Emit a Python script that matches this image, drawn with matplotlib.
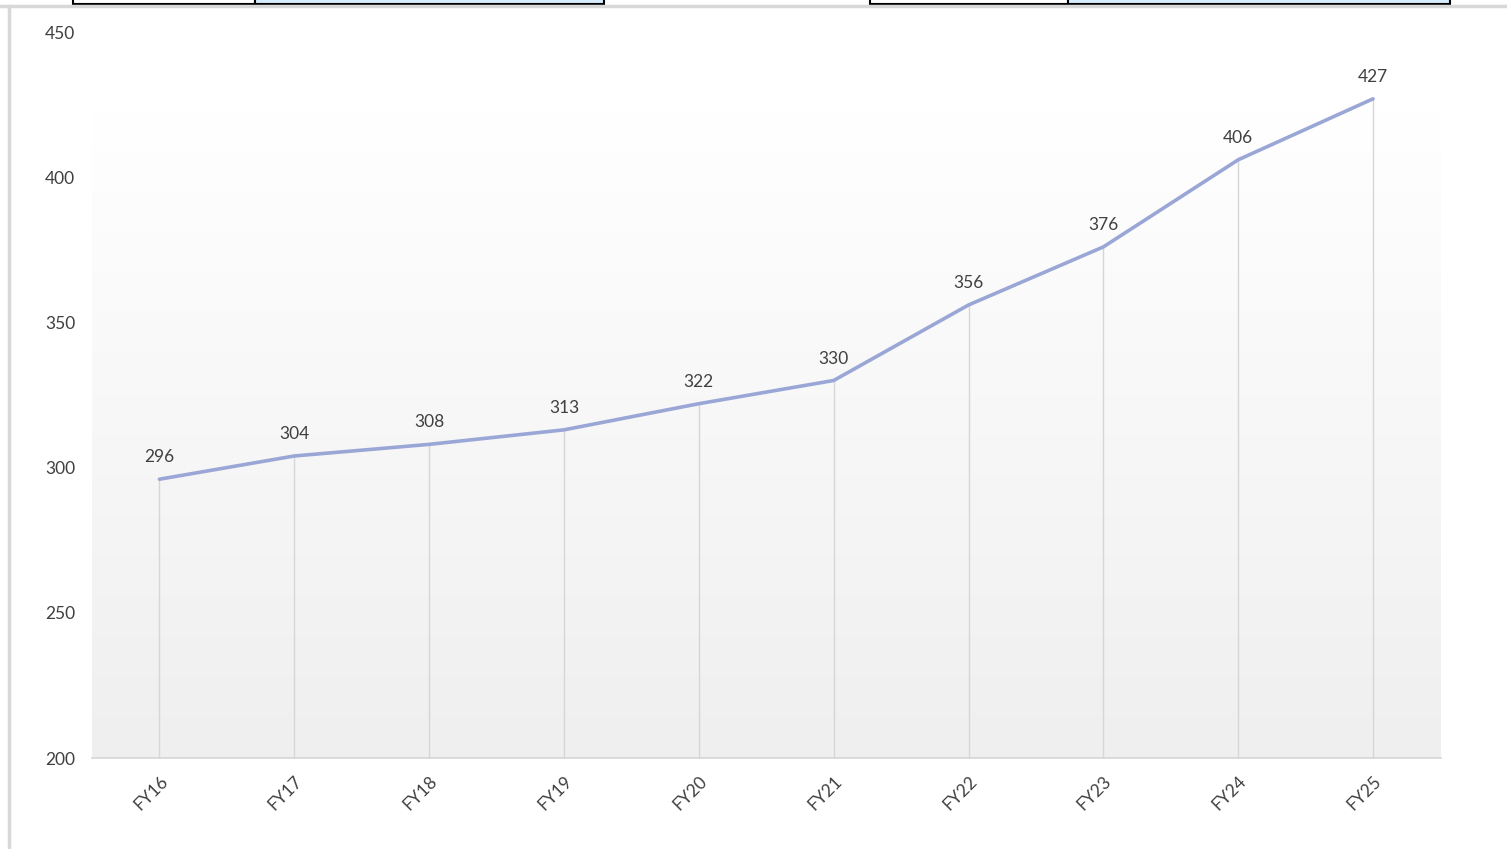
import numpy as np
import matplotlib.pyplot as plt
from matplotlib.patches import Rectangle
from matplotlib.colors import LinearSegmentedColormap

years = ["FY16", "FY17", "FY18", "FY19", "FY20", "FY21", "FY22", "FY23", "FY24", "FY25"]
values = [296, 304, 308, 313, 322, 330, 356, 376, 406, 427]
yticks = [200, 250, 300, 350, 400, 450]

text_col = "#404040"
line_col = "#9aa7d6"

plt.rcParams['font.family'] = ['Lato', 'DejaVu Sans']

fig = plt.figure(figsize=(15.07, 8.49), dpi=100)
ax = fig.add_axes([92/1507, 1-758/849, (1440.5-92)/1507, (758-32)/849])

x = np.arange(len(years))

# gradient background of plot area
grad_top = 423
cmap = LinearSegmentedColormap.from_list('bg', ["#ffffff", "#efefef"])
g = np.linspace(0, 1, 256).reshape(-1, 1)
ax.imshow(g, cmap=cmap, aspect='auto', extent=(-0.5, len(years)-0.5, 200, grad_top),
          origin='upper', zorder=0)

# drop lines
ax.vlines(x, 200, values, color="#d6d6d6", lw=1, zorder=1)
ax.plot(x, values, color=line_col, lw=2.6, zorder=3, solid_capstyle='round')

for xi, v in zip(x, values):
    ax.annotate(str(v), (xi, v), xytext=(0, 10), textcoords='offset points',
                ha='center', va='bottom', fontsize=12.5, color=text_col)

ax.set_xlim(-0.5, len(years)-0.5)
ax.set_ylim(200, 450)
ax.set_yticks(yticks)
ax.set_yticklabels([str(t) for t in yticks], fontsize=12.5, color=text_col)
ax.set_xticks(x)
ax.set_xticklabels(years, rotation=45, ha='right', rotation_mode='anchor',
                   fontsize=12.5, color=text_col)
ax.tick_params(axis='both', length=0)
ax.tick_params(axis='y', pad=12)
ax.tick_params(axis='x', pad=11)
for s in ["top", "right", "left"]:
    ax.spines[s].set_visible(False)
ax.spines["bottom"].set_color("#d6d6d6")
ax.spines["bottom"].set_linewidth(1.2)
ax.set_facecolor("white")

# page frame lines
fig.add_artist(plt.Line2D([0, 1], [1-6/849, 1-6/849], color="#d8d8d8", lw=2.5, transform=fig.transFigure))
fig.add_artist(plt.Line2D([9/1507, 9/1507], [0, 1-6/849], color="#d8d8d8", lw=2.5, transform=fig.transFigure))

# cropped table boxes at the top
def box(x0, x1, fill):
    fig.add_artist(Rectangle((x0/1507, 1-4/849), (x1-x0)/1507, 10/849, transform=fig.transFigure,
                             facecolor=fill, edgecolor="black", lw=1.5, clip_on=False))

box(73, 255, "white")
box(255, 604, "#d6ebfb")
box(870, 1068, "white")
box(1068, 1450, "#d6ebfb")

fig.savefig("out.png", dpi=100)
